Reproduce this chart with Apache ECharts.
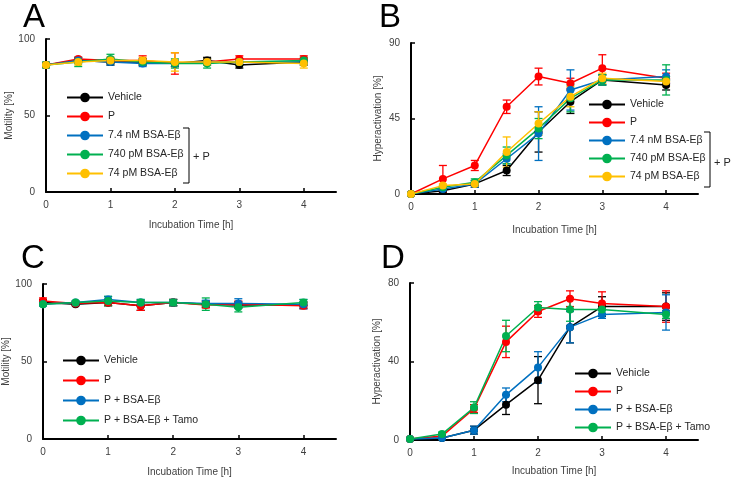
<!DOCTYPE html>
<html>
<head>
<meta charset="utf-8">
<script src="https://cdn.jsdelivr.net/npm/echarts@6/dist/echarts.min.js"></script>
<style>
html,body{margin:0;padding:0;background:#fff}
#main{width:734px;height:478px}
</style>
</head>
<body>
<div id="main"></div>
<script>
// time points [h]
var times = [0, 0.5, 1, 1.5, 2, 2.5, 3, 4];

// panel A / B groups
var namesAB = ['Vehicle', 'P', '7.4 nM BSA-Eβ', '740 pM BSA-Eβ', '74 pM BSA-Eβ'];
var colorsAB = ['#000000', '#ff0000', '#0070c0', '#00b050', '#ffc000'];
// panel C / D groups
var namesCD = ['Vehicle', 'P', 'P + BSA-Eβ', 'P + BSA-Eβ + Tamo'];
var colorsCD = ['#000000', '#ff0000', '#0070c0', '#00b050'];

// A: motility [%]
var motA = [
  [83, 86, 85, 85, 84, 86, 83, 85],
  [83, 87, 86, 86, 84, 85, 87, 87],
  [83, 86, 85, 84, 84, 85, 85, 85],
  [83, 85, 87, 85, 84, 84, 85, 86],
  [83, 85, 86, 86, 85, 85, 85, 84]
];
var errA = [
  [1, 1, 2, 2, 2, 2, 2, 2],
  [1, 1, 2, 3, 7, 2, 2, 2],
  [1, 2, 2, 2, 2, 2, 2, 2],
  [2, 3, 3, 2, 3, 3, 2, 2],
  [1, 2, 2, 2, 6, 2, 2, 3]
];

// B: hyperactivation [%]
var hypB = [
  [0, 2, 6, 14, 37, 55, 68, 65],
  [0, 9, 17, 52, 70, 66, 75, 69],
  [0, 3, 6, 21, 36, 62, 68, 70],
  [0, 4, 7, 23, 39, 57, 68, 68],
  [0, 5, 6, 25, 42, 58, 69, 67]
];
var errB = [
  [0, 1, 2, 3, 12, 7, 3, 3],
  [0, 8, 3, 4, 5, 3, 8, 3],
  [0, 1, 2, 3, 16, 12, 3, 4],
  [0, 1, 2, 5, 6, 8, 3, 9],
  [0, 1, 1, 9, 7, 6, 3, 3]
];

// C: motility [%]
var motC = [
  [88, 87, 88, 86, 88, 87, 86.5, 86.5],
  [89, 87.5, 88, 86, 88, 86.5, 87, 86],
  [87, 88, 90, 88, 88, 87.5, 87.5, 87],
  [87, 88, 89, 88, 88, 87, 85, 88]
];
var errC = [
  [2, 1, 2, 3, 2, 2, 2, 2],
  [2, 1, 2, 3, 2, 2, 2, 2],
  [1, 1, 2, 2, 2, 2, 3, 3],
  [1, 1, 3, 2, 2, 4, 3, 2]
];

// D: hyperactivation [%]
var hypD = [
  [0.5, 1, 5, 18, 30.5, 57.5, 68, 68],
  [0.5, 2, 16, 50, 65.5, 72, 69.5, 68],
  [0.5, 1, 5, 23, 37, 57.5, 64, 65],
  [0.5, 3, 16.5, 53, 67.5, 66.5, 66.5, 64]
];
var errD = [
  [0, 0.5, 2, 5, 12, 8, 5, 7],
  [0, 1, 2, 8, 3, 4, 6, 8],
  [0, 0.5, 2, 3.5, 8, 8, 2, 9],
  [0, 1, 3, 8, 3, 6, 2, 2]
];

// significance stars [x, y]
var starsB = [[0.83, 22.5], [1.33, 55], [1.82, 74]];
var starsDRed = [[0.78, 23], [1.28, 55.8], [1.78, 73], [2.32, 75.4]];
var starsDGreen = [[0.76, 17], [1.26, 49], [1.76, 66.7]];

var yTicksA = [0, 50, 100];
var yTicksB = [0, 45, 90];
var yTicksD = [0, 40, 80];
var xTicks = [0, 1, 2, 3, 4];

var myChart = echarts.init(document.getElementById('main'));

var font = 'Liberation Sans, Arial, sans-serif';
var grids = [
  {left: 46, width: 290, top: 39, height: 153},
  {left: 411, width: 287, top: 43, height: 151},
  {left: 43, width: 293, top: 284, height: 155},
  {left: 410, width: 288, top: 283, height: 157}
];

function xAxisOf(i, gap) {
  return {
    type: 'value', gridIndex: i, min: 0, max: 4.5,
    name: 'Incubation Time [h]', nameLocation: 'middle', nameGap: gap,
    nameTextStyle: {fontFamily: font, fontSize: 10, color: '#404040'},
    axisLine: {lineStyle: {color: '#000', width: 2}},
    axisTick: {inside: true, length: 4, customValues: xTicks, lineStyle: {color: '#000', width: 1.5}},
    axisLabel: {customValues: xTicks, fontFamily: font, fontSize: 10, color: '#404040', margin: 8},
    splitLine: {show: false}
  };
}
function yAxisOf(i, name, ticks, gap) {
  return {
    type: 'value', gridIndex: i, min: ticks[0], max: ticks[2], interval: ticks[1],
    name: name, nameLocation: 'middle', nameGap: gap,
    nameTextStyle: {fontFamily: font, fontSize: 10, color: '#404040'},
    axisLine: {show: true, lineStyle: {color: '#000', width: 2}},
    axisTick: {show: true, inside: true, length: 4, lineStyle: {color: '#000', width: 1.5}},
    axisLabel: {fontFamily: font, fontSize: 10, color: '#404040', margin: 11},
    splitLine: {show: false}
  };
}

function errRender(params, api) {
  var x = api.value(0), y = api.value(1), e = api.value(2);
  if (!e) return null;
  var hi = api.coord([x, y + e]);
  var lo = api.coord([x, y - e]);
  var w = 4;
  var st = {stroke: api.visual('color'), lineWidth: 1.3};
  return {
    type: 'group',
    children: [
      {type: 'line', shape: {x1: hi[0], y1: hi[1], x2: lo[0], y2: lo[1]}, style: st},
      {type: 'line', shape: {x1: hi[0] - w, y1: hi[1], x2: hi[0] + w, y2: hi[1]}, style: st},
      {type: 'line', shape: {x1: lo[0] - w, y1: lo[1], x2: lo[0] + w, y2: lo[1]}, style: st}
    ]
  };
}

var series = [];
function addPanel(idx, names, colors, vals, errs) {
  vals.forEach(function (v, k) {
    series.push({
      type: 'custom', name: names[k] + ' err', xAxisIndex: idx, yAxisIndex: idx,
      renderItem: errRender, itemStyle: {color: colors[k]}, z: 2,
      data: times.map(function (t, j) { return [t, v[j], errs[k][j]]; })
    });
  });
  vals.forEach(function (v, k) {
    series.push({
      type: 'line', name: names[k], xAxisIndex: idx, yAxisIndex: idx,
      data: times.map(function (t, j) { return [t, v[j]]; }),
      symbol: 'circle', symbolSize: 8, showSymbol: true, z: 3,
      lineStyle: {color: colors[k], width: 1.5},
      itemStyle: {color: colors[k]},
      emphasis: {disabled: true}
    });
  });
}
function addStars(idx, pts, color) {
  series.push({
    type: 'scatter', xAxisIndex: idx, yAxisIndex: idx, data: pts,
    symbolSize: 1, itemStyle: {opacity: 0}, z: 5,
    label: {show: true, position: 'inside', formatter: '*', color: color,
      fontFamily: font, fontSize: 14, offset: [0, 3]}
  });
}
addPanel(0, namesAB, colorsAB, motA, errA);
addPanel(1, namesAB, colorsAB, hypB, errB);
addPanel(2, namesCD, colorsCD, motC, errC);
addPanel(3, namesCD, colorsCD, hypD, errD);
addStars(1, starsB, '#ff0000');
addStars(3, starsDRed, '#ff0000');
addStars(3, starsDGreen, '#00b050');

function legendOf(names, left, top, gap) {
  return {
    data: names, orient: 'vertical', left: left, top: top, padding: 0,
    itemWidth: 36, itemHeight: 12, itemGap: gap, selectedMode: false,
    textStyle: {fontFamily: font, fontSize: 10.5, color: '#262626'}
  };
}

function letter(t, x, y) {
  return {type: 'text', left: x, top: y,
    style: {text: t, fontFamily: font, fontSize: 33, fill: '#000'}};
}
function bracket(x, y1, y2, label, ly) {
  return [
    {type: 'polyline', shape: {points: [[x - 6, y1], [x, y1], [x, y2], [x - 6, y2]]},
      style: {stroke: '#000', lineWidth: 1, fill: null}},
    {type: 'text', x: x + 4, y: ly,
      style: {text: label, fontFamily: font, fontSize: 11, fill: '#262626', verticalAlign: 'middle'}}
  ];
}

var option = {
  backgroundColor: '#fff',
  animation: false,
  grid: grids,
  xAxis: [xAxisOf(0, 28), xAxisOf(1, 31), xAxisOf(2, 28), xAxisOf(3, 26)],
  yAxis: [yAxisOf(0, 'Motility [%]', yTicksA, 31), yAxisOf(1, 'Hyperactivation [%]', yTicksB, 28),
    yAxisOf(2, 'Motility [%]', yTicksA, 30), yAxisOf(3, 'Hyperactivation [%]', yTicksD, 28)],
  legend: [
    legendOf(namesAB, 66, 92, 8),
    legendOf(namesAB, 588, 99, 7),
    legendOf(namesCD, 62, 355, 9),
    legendOf(namesCD, 574, 368, 7)
  ],
  graphic: [letter('A', 23, 1), letter('B', 379, 1), letter('C', 21, 242), letter('D', 381, 242)]
    .concat(bracket(189, 128, 183, '+ P', 157))
    .concat(bracket(710, 132, 187, '+ P', 163)),
  series: series
};

myChart.setOption(option);
</script>
</body>
</html>
